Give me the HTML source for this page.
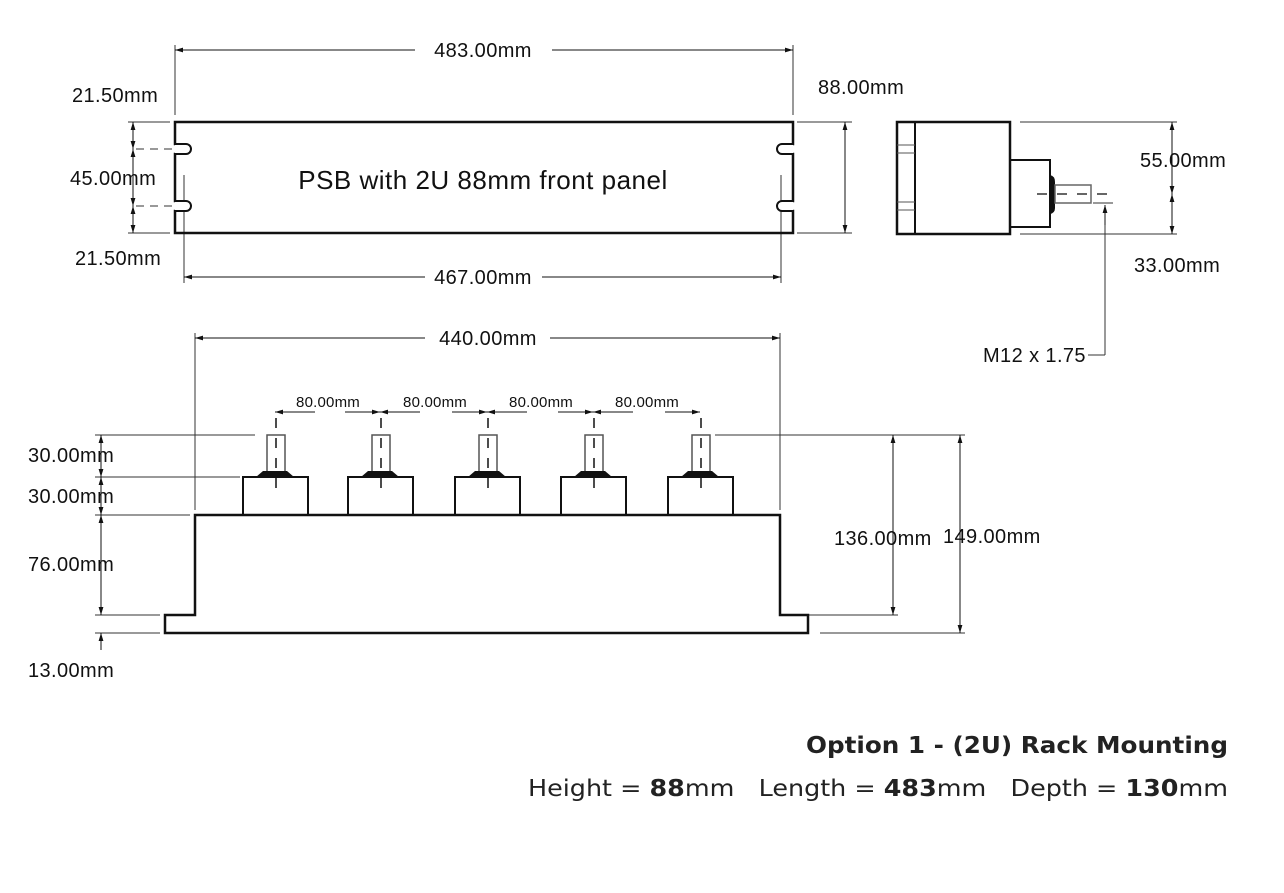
<!DOCTYPE html>
<html><head><meta charset="utf-8"><style>
body{margin:0;background:#fff;width:1284px;height:893px;overflow:hidden}
svg{display:block}
text{font-family:"Liberation Sans",sans-serif;fill:#111}
text.dj{font-family:"DejaVu Sans",sans-serif;fill:#222}
</style></head><body>
<svg width="1284" height="893" viewBox="0 0 1284 893">
<defs>
<marker id="a" viewBox="0 0 10 10" refX="10" refY="5" markerWidth="8" markerHeight="8" orient="auto-start-reverse"><path d="M0,2 L10,5 L0,8 z" fill="#111"/></marker>
</defs>
<g stroke="#333" stroke-width="1" fill="none">
<line x1="175" y1="45" x2="175" y2="115"/><line x1="793" y1="45" x2="793" y2="115"/>
<line x1="184" y1="175" x2="184" y2="283"/><line x1="781" y1="175" x2="781" y2="283"/>
<line x1="128" y1="122" x2="170" y2="122"/><line x1="128" y1="233" x2="170" y2="233"/>
<line x1="797" y1="122" x2="852" y2="122"/><line x1="797" y1="233" x2="852" y2="233"/>
<line x1="1020" y1="122" x2="1177" y2="122"/><line x1="1020" y1="234" x2="1177" y2="234"/>
<line x1="195" y1="333" x2="195" y2="510"/><line x1="780" y1="333" x2="780" y2="510"/>
<line x1="95" y1="435" x2="255" y2="435"/><line x1="95" y1="477" x2="240" y2="477"/>
<line x1="95" y1="515" x2="190" y2="515"/><line x1="95" y1="615" x2="160" y2="615"/>
<line x1="95" y1="633" x2="160" y2="633"/>
<line x1="715" y1="435" x2="965" y2="435"/><line x1="800" y1="615" x2="898" y2="615"/>
<line x1="820" y1="633" x2="965" y2="633"/>
<line x1="1105" y1="205" x2="1105" y2="355"/><line x1="1105" y1="355" x2="1088" y2="355"/>
<line x1="1093" y1="203" x2="1113" y2="203"/>
</g>
<g stroke="#111" stroke-width="1" fill="none">
<line x1="175" y1="50" x2="415" y2="50" marker-start="url(#a)"/><line x1="552" y1="50" x2="793" y2="50" marker-end="url(#a)"/>
<line x1="184" y1="277" x2="425" y2="277" marker-start="url(#a)"/><line x1="542" y1="277" x2="781" y2="277" marker-end="url(#a)"/>
<line x1="195" y1="338" x2="425" y2="338" marker-start="url(#a)"/><line x1="550" y1="338" x2="780" y2="338" marker-end="url(#a)"/>
<line x1="133" y1="122" x2="133" y2="149" marker-start="url(#a)" marker-end="url(#a)"/>
<line x1="133" y1="149" x2="133" y2="206" marker-start="url(#a)" marker-end="url(#a)"/>
<line x1="133" y1="206" x2="133" y2="233" marker-start="url(#a)" marker-end="url(#a)"/>
<line x1="845" y1="122" x2="845" y2="233" marker-start="url(#a)" marker-end="url(#a)"/>
<line x1="1172" y1="122" x2="1172" y2="194" marker-start="url(#a)" marker-end="url(#a)"/>
<line x1="1172" y1="194" x2="1172" y2="234" marker-start="url(#a)" marker-end="url(#a)"/>
<line x1="101" y1="435" x2="101" y2="477" marker-start="url(#a)" marker-end="url(#a)"/>
<line x1="101" y1="477" x2="101" y2="515" marker-start="url(#a)" marker-end="url(#a)"/>
<line x1="101" y1="515" x2="101" y2="615" marker-start="url(#a)" marker-end="url(#a)"/>
<line x1="101" y1="650" x2="101" y2="633" marker-end="url(#a)"/>
<line x1="893" y1="435" x2="893" y2="615" marker-start="url(#a)" marker-end="url(#a)"/>
<line x1="960" y1="435" x2="960" y2="633" marker-start="url(#a)" marker-end="url(#a)"/>
<line x1="1105" y1="225" x2="1105" y2="205" marker-end="url(#a)"/>
<line x1="315" y1="412" x2="275" y2="412" marker-end="url(#a)"/><line x1="345" y1="412" x2="380" y2="412" marker-end="url(#a)"/>
<line x1="420" y1="412" x2="380" y2="412" marker-end="url(#a)"/><line x1="452" y1="412" x2="487" y2="412" marker-end="url(#a)"/>
<line x1="527" y1="412" x2="487" y2="412" marker-end="url(#a)"/><line x1="558" y1="412" x2="593" y2="412" marker-end="url(#a)"/>
<line x1="633" y1="412" x2="593" y2="412" marker-end="url(#a)"/><line x1="665" y1="412" x2="700" y2="412" marker-end="url(#a)"/>
</g>
<path d="M175,122 H793 V144 A5,5 0 0 0 793,154 V201 A5,5 0 0 0 793,211 V233 H175 V211 A5,5 0 0 0 175,201 V154 A5,5 0 0 0 175,144 Z" fill="none" stroke="#111" stroke-width="2.5"/>
<path d="M175,144 H186 A5,5 0 0 1 186,154 H175 M175,201 H186 A5,5 0 0 1 186,211 H175 M793,144 H782 A5,5 0 0 0 782,154 H793 M793,201 H782 A5,5 0 0 0 782,211 H793" fill="#fff" stroke="#111" stroke-width="2"/>
<g stroke="#333" stroke-dasharray="8,6"><line x1="136" y1="149" x2="172" y2="149"/><line x1="136" y1="206" x2="172" y2="206"/></g>
<rect x="897" y="122" width="113" height="112" fill="none" stroke="#111" stroke-width="2.5"/>
<line x1="915" y1="122" x2="915" y2="234" stroke="#111" stroke-width="2"/>
<g stroke="#555"><line x1="897" y1="145" x2="915" y2="145"/><line x1="897" y1="153" x2="915" y2="153"/><line x1="897" y1="202" x2="915" y2="202"/><line x1="897" y1="210" x2="915" y2="210"/></g>
<rect x="1010" y="160" width="40" height="67" fill="none" stroke="#111" stroke-width="2"/>
<path d="M1050,175 Q1055,176 1055,182 V208 Q1055,213 1050,214 Z" fill="#111"/>
<rect x="1055" y="185" width="36" height="18" fill="none" stroke="#666" stroke-width="1.5"/>
<line x1="1037" y1="194" x2="1113" y2="194" stroke="#333" stroke-width="1.5" stroke-dasharray="10,10"/>
<path d="M165,633 V615 H195 V515 H780 V615 H808 V633 Z" fill="none" stroke="#111" stroke-width="2.5"/>
<g stroke="#111" stroke-width="2" fill="none">
<rect x="243" y="477" width="65" height="38"/><rect x="348" y="477" width="65" height="38"/><rect x="455" y="477" width="65" height="38"/><rect x="561" y="477" width="65" height="38"/><rect x="668" y="477" width="65" height="38"/>
</g>
<g stroke="#555" stroke-width="1.5" fill="none">
<rect x="267" y="435" width="18" height="38"/><rect x="372" y="435" width="18" height="38"/><rect x="479" y="435" width="18" height="38"/><rect x="585" y="435" width="18" height="38"/><rect x="692" y="435" width="18" height="38"/>
</g>
<g fill="#111">
<path d="M256,477 L263,471 H287 L294,477 Z"/><path d="M361,477 L368,471 H392 L399,477 Z"/><path d="M468,477 L475,471 H499 L506,477 Z"/><path d="M574,477 L581,471 H605 L612,477 Z"/><path d="M681,477 L688,471 H712 L719,477 Z"/>
</g>
<g stroke="#111" stroke-width="1.5" stroke-dasharray="10,10">
<line x1="276" y1="418" x2="276" y2="495"/><line x1="381" y1="418" x2="381" y2="495"/><line x1="488" y1="418" x2="488" y2="495"/><line x1="594" y1="418" x2="594" y2="495"/><line x1="701" y1="418" x2="701" y2="495"/>
</g>
<g font-size="20" letter-spacing="0.4">
<text x="483" y="57" text-anchor="middle">483.00mm</text>
<text x="483" y="284" text-anchor="middle">467.00mm</text>
<text x="488" y="345" text-anchor="middle">440.00mm</text>
<text x="72" y="102">21.50mm</text>
<text x="70" y="185">45.00mm</text>
<text x="75" y="265">21.50mm</text>
<text x="818" y="94">88.00mm</text>
<text x="1140" y="167">55.00mm</text>
<text x="1134" y="272">33.00mm</text>
<text x="983" y="362">M12 x 1.75</text>
<text x="28" y="462">30.00mm</text>
<text x="28" y="503">30.00mm</text>
<text x="28" y="571">76.00mm</text>
<text x="28" y="677">13.00mm</text>
<text x="834" y="545">136.00mm</text>
<text x="943" y="543">149.00mm</text>
</g>
<g font-size="15" letter-spacing="0.2">
<text x="328" y="407" text-anchor="middle">80.00mm</text>
<text x="435" y="407" text-anchor="middle">80.00mm</text>
<text x="541" y="407" text-anchor="middle">80.00mm</text>
<text x="647" y="407" text-anchor="middle">80.00mm</text>
</g>
<text x="483" y="189" font-size="26" letter-spacing="0.5" text-anchor="middle">PSB with 2U 88mm front panel</text>
<text class="dj" x="806" y="753" font-size="23" font-weight="bold" textLength="422" lengthAdjust="spacingAndGlyphs">Option 1 - (2U) Rack Mounting</text>
<text class="dj" x="528" y="796" font-size="23" xml:space="preserve" style="white-space:pre" textLength="700" lengthAdjust="spacingAndGlyphs">Height = <tspan font-weight="bold">88</tspan>mm   Length = <tspan font-weight="bold">483</tspan>mm   Depth = <tspan font-weight="bold">130</tspan>mm</text>
</svg>
</body></html>
